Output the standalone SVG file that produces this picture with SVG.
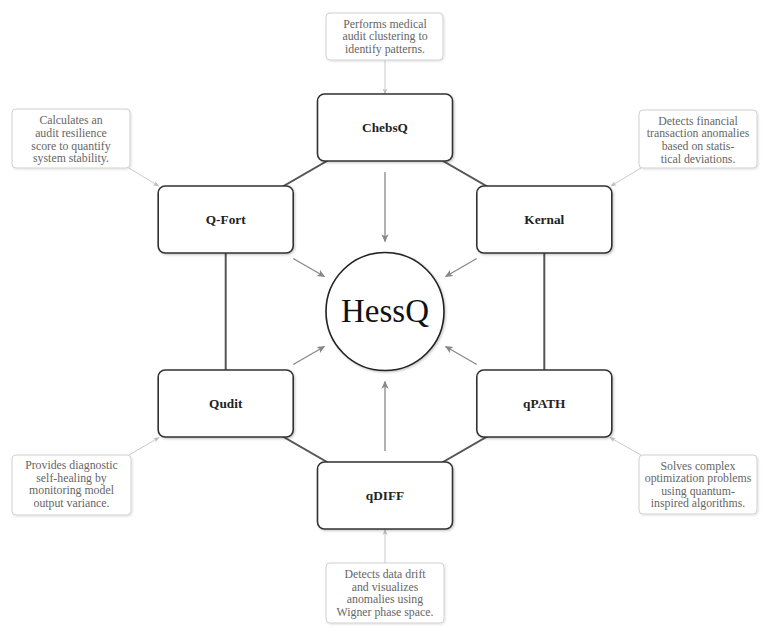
<svg xmlns="http://www.w3.org/2000/svg" width="768" height="628" viewBox="0 0 768 628">
<defs>
  <filter id="sh" x="-10%" y="-10%" width="130%" height="130%">
    <feDropShadow dx="1.2" dy="1.2" stdDeviation="1.2" flood-color="#000" flood-opacity="0.22"/>
  </filter>
  <filter id="sh2" x="-10%" y="-10%" width="130%" height="130%">
    <feDropShadow dx="1" dy="1" stdDeviation="1" flood-color="#000" flood-opacity="0.12"/>
  </filter>
  <marker id="ah" viewBox="0 0 10 10" refX="9" refY="5" markerWidth="8" markerHeight="8" markerUnits="userSpaceOnUse" orient="auto">
    <path d="M0,0.5 L10,5 L0,9.5 L2.5,5 Z" fill="#888"/>
  </marker>
  <marker id="ahl" viewBox="0 0 10 10" refX="9" refY="5" markerWidth="6" markerHeight="6" markerUnits="userSpaceOnUse" orient="auto">
    <path d="M0,1 L10,5 L0,9 L2.5,5 Z" fill="#bbb"/>
  </marker>
</defs>
<style>
  .edge { stroke: #555; stroke-width: 2; fill: none; }
  .arr { stroke: #888; stroke-width: 1.3; fill: none; marker-end: url(#ah); }
  .dc { stroke: #c4c4c4; stroke-width: 0.9; fill: none; marker-end: url(#ahl); }
  .node rect { fill: #fff; stroke: #333; stroke-width: 1.6; filter: url(#sh); }
  .node text { font-family: "Liberation Serif", "DejaVu Serif", serif; font-weight: bold; font-size: 13.3px; fill: #222; text-anchor: middle; }
  .desc rect { fill: #fff; stroke: #d0d0d0; stroke-width: 1; filter: url(#sh2); }
  .desc text { font-family: "Liberation Serif", "DejaVu Serif", serif; font-size: 11.8px; fill: #666; text-anchor: middle; }
</style>
<rect width="768" height="628" fill="#fff"/>

<g id="connectors">
  <line class="edge" x1="385" y1="127.5" x2="225.7" y2="219.5"/>
  <line class="edge" x1="225.7" y1="219.5" x2="225.7" y2="403.5"/>
  <line class="edge" x1="225.7" y1="403.5" x2="385" y2="495.5"/>
  <line class="edge" x1="385" y1="495.5" x2="544.3" y2="403.5"/>
  <line class="edge" x1="544.3" y1="403.5" x2="544.3" y2="219.5"/>
  <line class="edge" x1="544.3" y1="219.5" x2="385" y2="127.5"/>

  <line class="arr" x1="385" y1="172" x2="385" y2="241.5"/>
  <line class="arr" x1="385" y1="451" x2="385" y2="381.5"/>
  <line class="arr" x1="293.2" y1="258.5" x2="324.4" y2="276.5"/>
  <line class="arr" x1="476.8" y1="258.5" x2="445.6" y2="276.5"/>
  <line class="arr" x1="293.2" y1="364.5" x2="324.4" y2="346.5"/>
  <line class="arr" x1="476.8" y1="364.5" x2="445.6" y2="346.5"/>

  <line class="dc" x1="385" y1="60" x2="385" y2="94"/>
  <line class="dc" x1="129" y1="168" x2="158.5" y2="186"/>
  <line class="dc" x1="641" y1="168" x2="611" y2="186"/>
  <line class="dc" x1="129" y1="455" x2="159" y2="437.5"/>
  <line class="dc" x1="641" y1="455" x2="610" y2="437.5"/>
  <line class="dc" x1="385" y1="563" x2="385" y2="529.5"/>
</g>

<g id="hessq">
  <circle cx="385" cy="311.5" r="59" fill="#fff" stroke="#222" stroke-width="1.6" filter="url(#sh)"/>
  <text x="385" y="322" font-family="Liberation Serif, DejaVu Serif, serif" font-size="33" fill="#111" text-anchor="middle">HessQ</text>
</g>

<g id="chebsq" class="node">
  <rect x="317.5" y="94" width="135" height="67" rx="7"/>
  <text x="385" y="132">ChebsQ</text>
</g>
<g id="qfort" class="node">
  <rect x="158.2" y="186" width="135" height="67" rx="7"/>
  <text x="225.7" y="224">Q-Fort</text>
</g>
<g id="kernal" class="node">
  <rect x="476.8" y="186" width="135" height="67" rx="7"/>
  <text x="544.3" y="224">Kernal</text>
</g>
<g id="qudit" class="node">
  <rect x="158.2" y="370" width="135" height="67" rx="7"/>
  <text x="225.7" y="408">Qudit</text>
</g>
<g id="qpath" class="node">
  <rect x="476.8" y="370" width="135" height="67" rx="7"/>
  <text x="544.3" y="408">qPATH</text>
</g>
<g id="qdiff" class="node">
  <rect x="317.5" y="462" width="135" height="67" rx="7"/>
  <text x="385" y="500">qDIFF</text>
</g>

<g id="desc-chebsq" class="desc">
  <rect x="326" y="13" width="117" height="47" rx="4"/>
  <text x="385" y="27.5">Performs medical</text>
  <text x="385" y="40.2">audit clustering to</text>
  <text x="385" y="53">identify patterns.</text>
</g>
<g id="desc-qfort" class="desc">
  <rect x="12" y="109" width="118" height="59" rx="4"/>
  <text x="71" y="123.5">Calculates an</text>
  <text x="71" y="136.5">audit resilience</text>
  <text x="71" y="149.5">score to quantify</text>
  <text x="71" y="162">system stability.</text>
</g>
<g id="desc-kernal" class="desc">
  <rect x="639" y="110" width="118" height="58" rx="4"/>
  <text x="698" y="124.5">Detects financial</text>
  <text x="698" y="137.3">transaction anomalies</text>
  <text x="698" y="150.2">based on statis-</text>
  <text x="698" y="163">tical deviations.</text>
</g>
<g id="desc-qudit" class="desc">
  <rect x="12" y="455" width="119" height="60" rx="4"/>
  <text x="71.5" y="469">Provides diagnostic</text>
  <text x="71.5" y="481.7">self-healing by</text>
  <text x="71.5" y="494.4">monitoring model</text>
  <text x="71.5" y="507">output variance.</text>
</g>
<g id="desc-qpath" class="desc">
  <rect x="639" y="455" width="118" height="59" rx="4"/>
  <text x="698" y="469.5">Solves complex</text>
  <text x="698" y="482">optimization problems</text>
  <text x="698" y="494.7">using quantum-</text>
  <text x="698" y="507.3">inspired algorithms.</text>
</g>
<g id="desc-qdiff" class="desc">
  <rect x="326" y="563" width="118" height="60" rx="4"/>
  <text x="385" y="578">Detects data drift</text>
  <text x="385" y="590.7">and visualizes</text>
  <text x="385" y="603.4">anomalies using</text>
  <text x="385" y="616">Wigner phase space.</text>
</g>
</svg>
